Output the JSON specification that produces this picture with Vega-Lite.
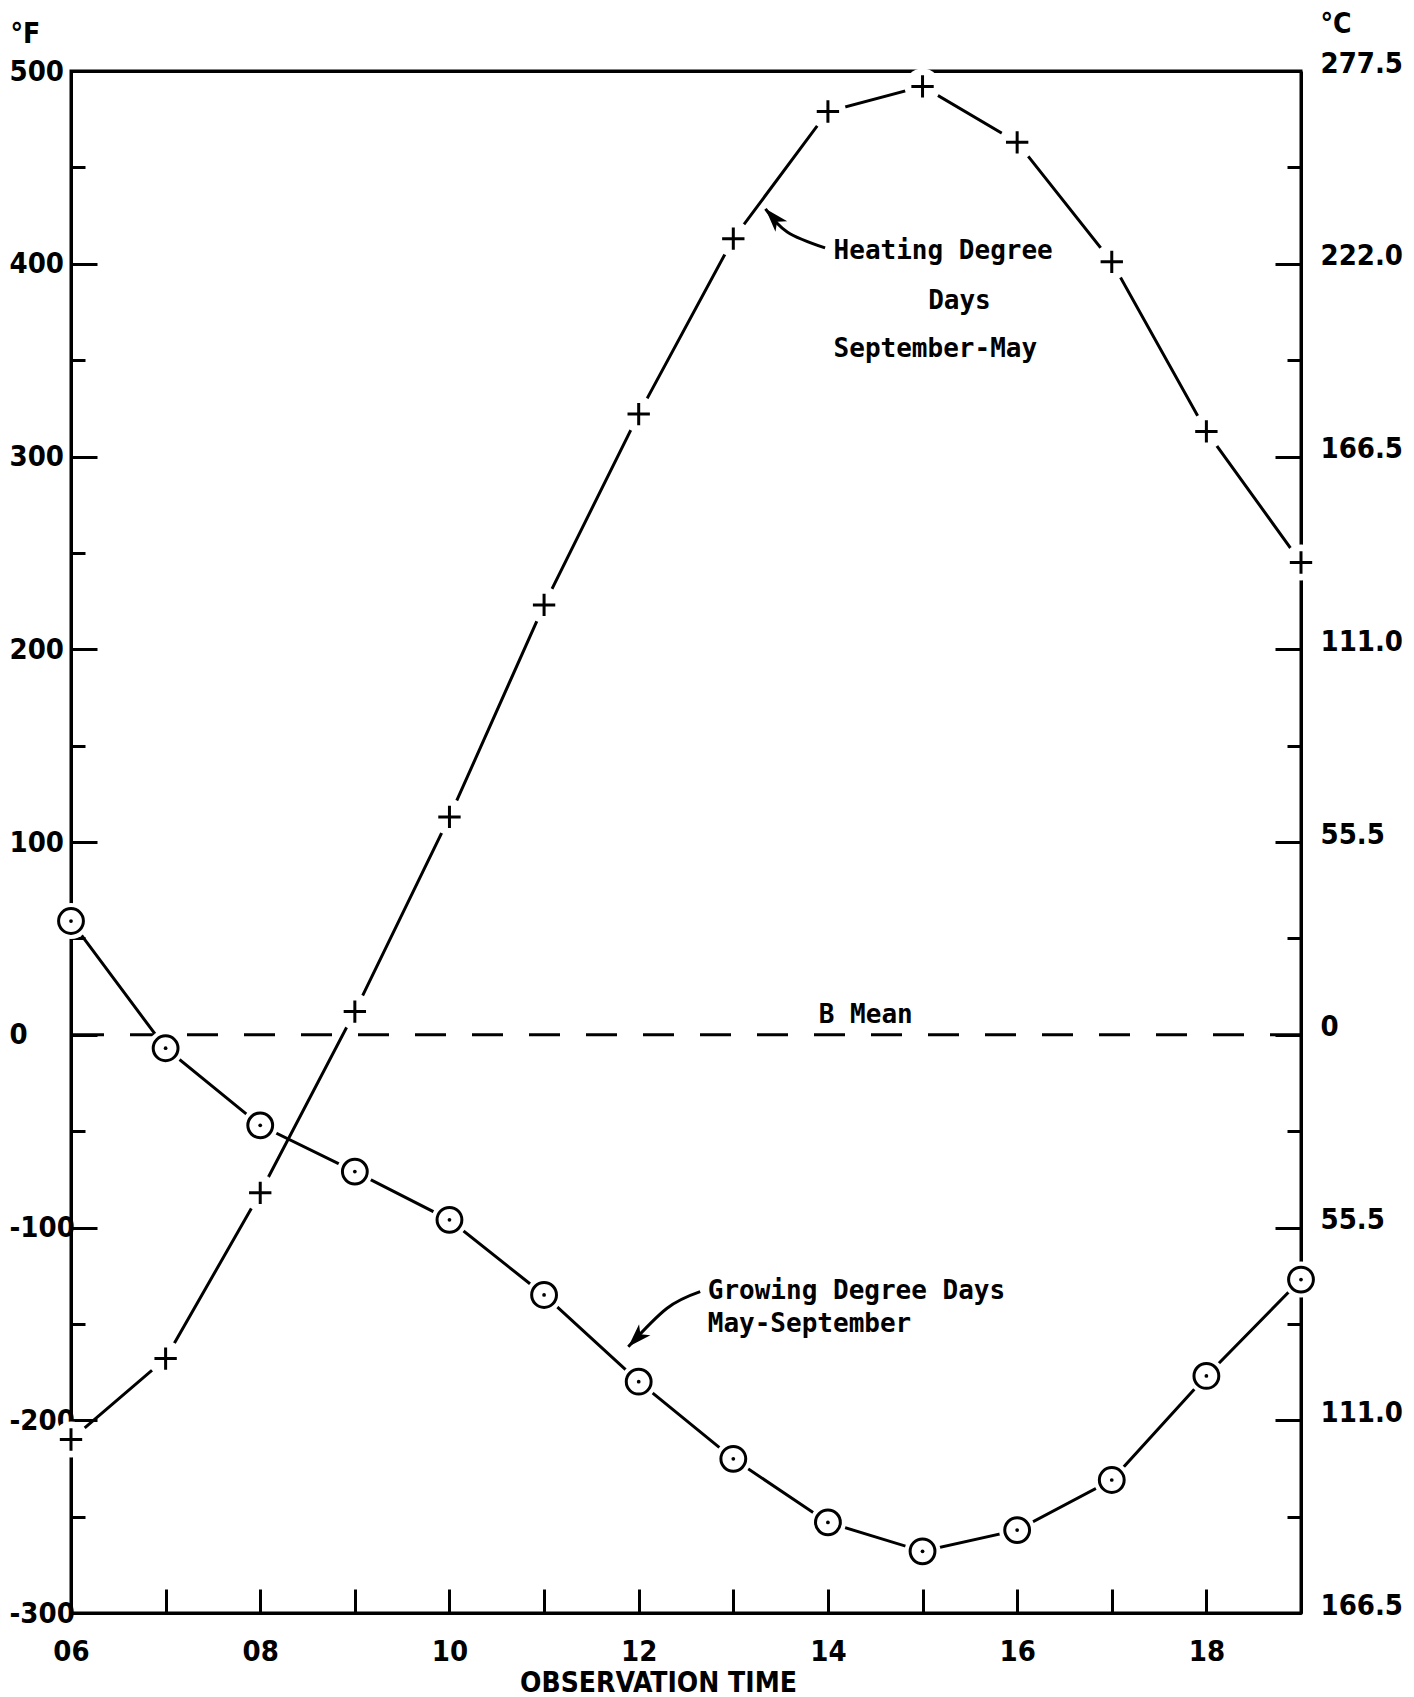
{
  "$schema": "https://vega.github.io/schema/vega-lite/v6.json",
  "width": 1230,
  "height": 1542,
  "autosize": {"type": "none"},
  "padding": {"left": 71, "top": 71, "right": 113, "bottom": 84},
  "background": "white",
  "config": {
    "view": {"stroke": "black", "strokeWidth": 3},
    "axis": {
      "domainColor": "black", "domainWidth": 3, "tickColor": "black", "tickWidth": 3,
      "labelColor": "black", "labelFont": "Liberation Sans Narrow, DejaVu Sans Condensed, sans-serif",
      "labelFontSize": 29, "labelFontWeight": "bold", "titleColor": "black",
      "titleFont": "Liberation Sans Narrow, DejaVu Sans Condensed, sans-serif", "titleFontSize": 28,
      "titleFontWeight": "bold", "grid": false, "zindex": 1, "labelFlush": false, "labelOverlap": false, "labelBound": false
    }
  },
  "datasets": {
    "series": [
      {"series": "Heating Degree Days", "hour": 6, "value": -210},
      {"series": "Heating Degree Days", "hour": 7, "value": -168},
      {"series": "Heating Degree Days", "hour": 8, "value": -82},
      {"series": "Heating Degree Days", "hour": 9, "value": 12},
      {"series": "Heating Degree Days", "hour": 10, "value": 113},
      {"series": "Heating Degree Days", "hour": 11, "value": 223},
      {"series": "Heating Degree Days", "hour": 12, "value": 322},
      {"series": "Heating Degree Days", "hour": 13, "value": 413},
      {"series": "Heating Degree Days", "hour": 14, "value": 479},
      {"series": "Heating Degree Days", "hour": 15, "value": 492},
      {"series": "Heating Degree Days", "hour": 16, "value": 463},
      {"series": "Heating Degree Days", "hour": 17, "value": 401},
      {"series": "Heating Degree Days", "hour": 18, "value": 313},
      {"series": "Heating Degree Days", "hour": 19, "value": 245},
      {"series": "Growing Degree Days", "hour": 6, "value": 59},
      {"series": "Growing Degree Days", "hour": 7, "value": -7},
      {"series": "Growing Degree Days", "hour": 8, "value": -47},
      {"series": "Growing Degree Days", "hour": 9, "value": -71},
      {"series": "Growing Degree Days", "hour": 10, "value": -96},
      {"series": "Growing Degree Days", "hour": 11, "value": -135},
      {"series": "Growing Degree Days", "hour": 12, "value": -180},
      {"series": "Growing Degree Days", "hour": 13, "value": -220},
      {"series": "Growing Degree Days", "hour": 14, "value": -253},
      {"series": "Growing Degree Days", "hour": 15, "value": -268},
      {"series": "Growing Degree Days", "hour": 16, "value": -257},
      {"series": "Growing Degree Days", "hour": 17, "value": -231},
      {"series": "Growing Degree Days", "hour": 18, "value": -177},
      {"series": "Growing Degree Days", "hour": 19, "value": -127}
    ],
    "mean": [{"label": "B Mean", "value": 0}],
    "notes": [
      {"label": "Heating Degree", "hour": 14.06, "value": 406.6},
      {"label": "Days", "hour": 15.39, "value": 380.8},
      {"label": "September-May", "hour": 14.06, "value": 356},
      {"label": "B Mean", "hour": 14.4, "value": 10.4},
      {"label": "Growing Degree Days", "hour": 12.73, "value": -132.8},
      {"label": "May-September", "hour": 12.73, "value": -149.9}
    ],
    "arrows": [
      {"arrow": "heating", "step": 1, "hour": 13.97, "value": 408.2},
      {"arrow": "heating", "step": 2, "hour": 13.57, "value": 416.5},
      {"arrow": "heating", "step": 3, "hour": 13.34, "value": 428.5},
      {"arrow": "growing", "step": 1, "hour": 12.65, "value": -133.3},
      {"arrow": "growing", "step": 2, "hour": 12.3, "value": -141.9},
      {"arrow": "growing", "step": 3, "hour": 11.89, "value": -161.9}
    ]
  },
  "resolve": {"axis": {"x": "independent", "y": "independent"}},
  "layer": [
    {
      "data": {"name": "mean"},
      "mark": {"type": "rule", "color": "black", "strokeWidth": 3, "strokeDash": [31, 26]},
      "encoding": {
        "y": {"field": "value", "type": "quantitative", "scale": {"domain": [-300, 500], "nice": false, "zero": false},
          "axis": {"orient": "left", "values": [-300, -200, -100, 0, 100, 200, 300, 400, 500], "tickSize": -26,
            "labelPadding": 88, "labelAlign": "left", "labelBaseline": "middle", "labelExpr": "'' + datum.value",
            "title": "°F", "titleAngle": 0, "titleAlign": "left", "titleBaseline": "top", "titleX": -61, "titleY": -51}}
      }
    },
    {
      "data": {"name": "series"},
      "mark": {"type": "line", "color": "black", "strokeWidth": 3},
      "encoding": {
        "x": {"field": "hour", "type": "quantitative", "scale": {"domain": [6, 19], "nice": false, "zero": false},
          "axis": {"orient": "bottom", "values": [6, 7, 8, 9, 10, 11, 12, 13, 14, 15, 16, 17, 18, 19], "tickSize": -24,
            "labelPadding": 48, "labelExpr": "datum.value % 2 == 0 ? (datum.value < 10 ? '0' + datum.value : '' + datum.value) : ''",
            "title": "OBSERVATION TIME", "titleX": 587, "titleY": 56, "titleBaseline": "top", "titleAlign": "center"}},
        "y": {"field": "value", "type": "quantitative", "scale": {"domain": [-300, 500], "nice": false, "zero": false},
          "axis": {"orient": "left", "values": [-250, -150, -50, 50, 150, 250, 350, 450], "tickSize": -14,
            "labels": false, "domain": false, "title": null}},
        "detail": {"field": "series"}
      }
    },
    {
      "data": {"name": "series"},
      "mark": {"type": "point", "shape": "circle", "filled": true, "fill": "white", "strokeWidth": 0, "opacity": 1, "size": 1300},
      "encoding": {
        "x": {"field": "hour", "type": "quantitative", "scale": {"domain": [6, 19], "nice": false, "zero": false},
          "axis": {"orient": "top", "ticks": false, "labels": false, "domain": true, "title": null}},
        "y": {"field": "value", "type": "quantitative", "scale": {"domain": [-300, 500], "nice": false, "zero": false},
          "axis": {"orient": "right", "values": [-300, -200, -100, 0, 100, 200, 300, 400, 500], "tickSize": -26,
            "labelPadding": 45, "labelOffset": -8, "labelAlign": "left", "labelBaseline": "middle",
            "labelExpr": "datum.value == 0 ? '0' : format(abs(datum.value) * 0.555, '.1f')",
            "title": "°C", "titleAngle": 0, "titleAlign": "left", "titleBaseline": "top", "titleX": 19, "titleY": -61}}
      }
    },
    {
      "data": {"name": "series"},
      "transform": [{"filter": "datum.series == 'Heating Degree Days'"}],
      "mark": {"type": "point", "shape": "M-1,0H1M0,-1V1", "filled": false, "stroke": "black", "strokeWidth": 3, "opacity": 1, "size": 500},
      "encoding": {
        "x": {"field": "hour", "type": "quantitative", "scale": {"domain": [6, 19], "nice": false, "zero": false}, "axis": null},
        "y": {"field": "value", "type": "quantitative", "scale": {"domain": [-300, 500], "nice": false, "zero": false},
          "axis": {"orient": "right", "values": [-250, -150, -50, 50, 150, 250, 350, 450], "tickSize": -14,
            "labels": false, "domain": false, "title": null}}
      }
    },
    {
      "data": {"name": "series"},
      "transform": [{"filter": "datum.series == 'Growing Degree Days'"}],
      "mark": {"type": "point", "shape": "circle", "filled": false, "stroke": "black", "strokeWidth": 3, "opacity": 1, "size": 616},
      "encoding": {
        "x": {"field": "hour", "type": "quantitative", "scale": {"domain": [6, 19], "nice": false, "zero": false}, "axis": null},
        "y": {"field": "value", "type": "quantitative", "scale": {"domain": [-300, 500], "nice": false, "zero": false}, "axis": null}
      }
    },
    {
      "data": {"name": "series"},
      "transform": [{"filter": "datum.series == 'Growing Degree Days'"}],
      "mark": {"type": "point", "shape": "circle", "filled": true, "fill": "black", "opacity": 1, "size": 14},
      "encoding": {
        "x": {"field": "hour", "type": "quantitative", "scale": {"domain": [6, 19], "nice": false, "zero": false}, "axis": null},
        "y": {"field": "value", "type": "quantitative", "scale": {"domain": [-300, 500], "nice": false, "zero": false}, "axis": null}
      }
    },
    {
      "data": {"name": "notes"},
      "transform": [{"filter": {"field": "label", "oneOf": ["Heating Degree", "September-May", "Growing Degree Days", "May-September"]}}],
      "mark": {"type": "text", "align": "left", "baseline": "middle", "font": "DejaVu Sans Mono", "fontSize": 26, "fontWeight": "bold", "color": "black"},
      "encoding": {
        "x": {"field": "hour", "type": "quantitative", "scale": {"domain": [6, 19], "nice": false, "zero": false}, "axis": null},
        "y": {"field": "value", "type": "quantitative", "scale": {"domain": [-300, 500], "nice": false, "zero": false}, "axis": null},
        "text": {"field": "label"}
      }
    },
    {
      "data": {"name": "notes"},
      "transform": [{"filter": {"field": "label", "oneOf": ["Days", "B Mean"]}}],
      "mark": {"type": "text", "align": "center", "baseline": "middle", "font": "DejaVu Sans Mono", "fontSize": 26, "fontWeight": "bold", "color": "black"},
      "encoding": {
        "x": {"field": "hour", "type": "quantitative", "scale": {"domain": [6, 19], "nice": false, "zero": false}, "axis": null},
        "y": {"field": "value", "type": "quantitative", "scale": {"domain": [-300, 500], "nice": false, "zero": false}, "axis": null},
        "text": {"field": "label"}
      }
    },
    {
      "data": {"name": "arrows"},
      "mark": {"type": "line", "color": "black", "strokeWidth": 3, "interpolate": "cardinal"},
      "encoding": {
        "x": {"field": "hour", "type": "quantitative", "scale": {"domain": [6, 19], "nice": false, "zero": false}, "axis": null},
        "y": {"field": "value", "type": "quantitative", "scale": {"domain": [-300, 500], "nice": false, "zero": false}, "axis": null},
        "detail": {"field": "arrow"},
        "order": {"field": "step", "type": "quantitative"}
      }
    },
    {
      "data": {"name": "arrows"},
      "transform": [{"filter": "datum.arrow == 'heating' && datum.step == 3"}],
      "mark": {"type": "point", "shape": "M0,0L-0.5,1.5L0,1.1L0.5,1.5Z", "filled": true, "fill": "black", "opacity": 1, "size": 1000, "angle": 318},
      "encoding": {
        "x": {"field": "hour", "type": "quantitative", "scale": {"domain": [6, 19], "nice": false, "zero": false}, "axis": null},
        "y": {"field": "value", "type": "quantitative", "scale": {"domain": [-300, 500], "nice": false, "zero": false}, "axis": null}
      }
    },
    {
      "data": {"name": "arrows"},
      "transform": [{"filter": "datum.arrow == 'growing' && datum.step == 3"}],
      "mark": {"type": "point", "shape": "M0,0L-0.5,1.5L0,1.1L0.5,1.5Z", "filled": true, "fill": "black", "opacity": 1, "size": 1000, "angle": 224},
      "encoding": {
        "x": {"field": "hour", "type": "quantitative", "scale": {"domain": [6, 19], "nice": false, "zero": false}, "axis": null},
        "y": {"field": "value", "type": "quantitative", "scale": {"domain": [-300, 500], "nice": false, "zero": false}, "axis": null}
      }
    }
  ]
}
